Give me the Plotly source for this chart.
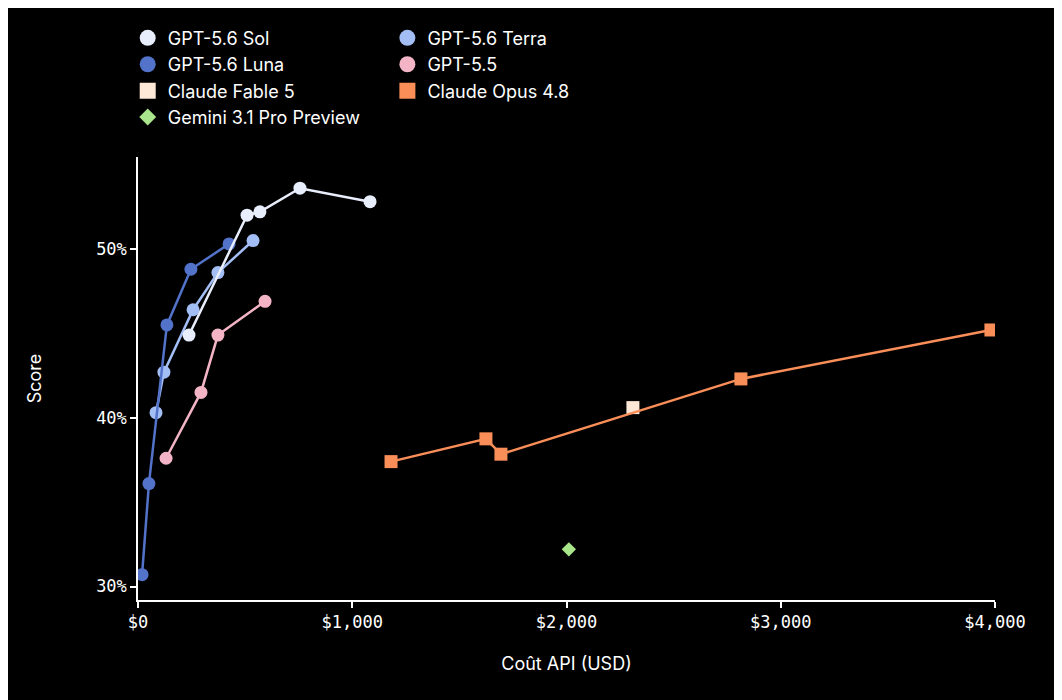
import plotly.graph_objects as go

sol_x = [238, 509, 569, 756, 1083]
sol_y = [44.9, 52.0, 52.2, 53.6, 52.8]
luna_x = [19, 51, 135, 247, 425]
luna_y = [30.7, 36.1, 45.5, 48.8, 50.3]
terra_x = [84, 121, 257, 373, 537]
terra_y = [40.3, 42.7, 46.4, 48.6, 50.5]
g55_x = [131, 294, 373, 593]
g55_y = [37.6, 41.5, 44.9, 46.9]
opus_x = [1181, 1624, 1694, 2814, 3981]
opus_y = [37.4, 38.75, 37.84, 42.3, 45.2]
fable_x = [2310]
fable_y = [40.6]
gem_x = [2011]
gem_y = [32.2]

series = [
    ("GPT-5.6 Sol", sol_x, sol_y, "#e8eefc", "circle", "legend"),
    ("GPT-5.6 Terra", terra_x, terra_y, "#a3bdf5", "circle", "legend2"),
    ("GPT-5.6 Luna", luna_x, luna_y, "#5273c9", "circle", "legend"),
    ("GPT-5.5", g55_x, g55_y, "#f3b5c6", "circle", "legend2"),
    ("Claude Fable 5", fable_x, fable_y, "#fde7d6", "square", "legend"),
    ("Claude Opus 4.8", opus_x, opus_y, "#f98e58", "square", "legend2"),
    ("Gemini 3.1 Pro Preview", gem_x, gem_y, "#a8e58b", "diamond", "legend"),
]
draw_order = [4, 6, 5, 3, 1, 2, 0]
fig = go.Figure()
for i in draw_order:
    name, xs, ys, c, sym, lg = series[i]
    fig.add_trace(go.Scatter(x=xs, y=ys, mode="lines+markers" if len(xs) > 1 else "markers",
                             line=dict(color=c, width=2.5),
                             marker=dict(color=c, symbol=sym, size=13 if sym != "diamond" else 11),
                             showlegend=False, hoverinfo="skip"))
for name, xs, ys, c, sym, lg in series:
    fig.add_trace(go.Scatter(x=[None], y=[None], mode="markers", name=name, legend=lg,
                             marker=dict(color=c, symbol=sym, size=17 if sym != "diamond" else 13)))

ax = dict(showgrid=False, zeroline=False, showline=True, linecolor="white", linewidth=1.5,
          ticks="outside", tickcolor="white", ticklen=6, tickwidth=1.5,
          tickfont=dict(family="DejaVu Sans Mono", size=17, color="white"))
fig.update_layout(
    width=1062, height=700, paper_bgcolor="black", plot_bgcolor="black",
    margin=dict(l=130, r=75, t=130, b=108),
    font=dict(family="Inter", color="white", size=18),
    xaxis=dict(ax, range=[0, 4000], tickvals=[0, 1000, 2000, 3000, 4000],
               ticktext=["$0", "$1,000", "$2,000", "$3,000", "$4,000"],
               title=dict(text="Coût API (USD)", font=dict(size=18), standoff=26)),
    yaxis=dict(ax, range=[29.2, 55.45], tickvals=[30, 40, 50],
               ticktext=["30%", "40%", "50%"],
               title=dict(text="Score", font=dict(size=18), standoff=50)),
    legend=dict(x=-0.012, y=1.31, xanchor="left", yanchor="top", xref="paper", yref="paper",
                bgcolor="rgba(0,0,0,0)", font=dict(size=18), tracegroupgap=0, itemwidth=30),
    legend2=dict(x=0.291, y=1.31, xanchor="left", yanchor="top", xref="paper", yref="paper",
                 bgcolor="rgba(0,0,0,0)", font=dict(size=18), tracegroupgap=0, itemwidth=30),
)
fig.write_html("out.html")
